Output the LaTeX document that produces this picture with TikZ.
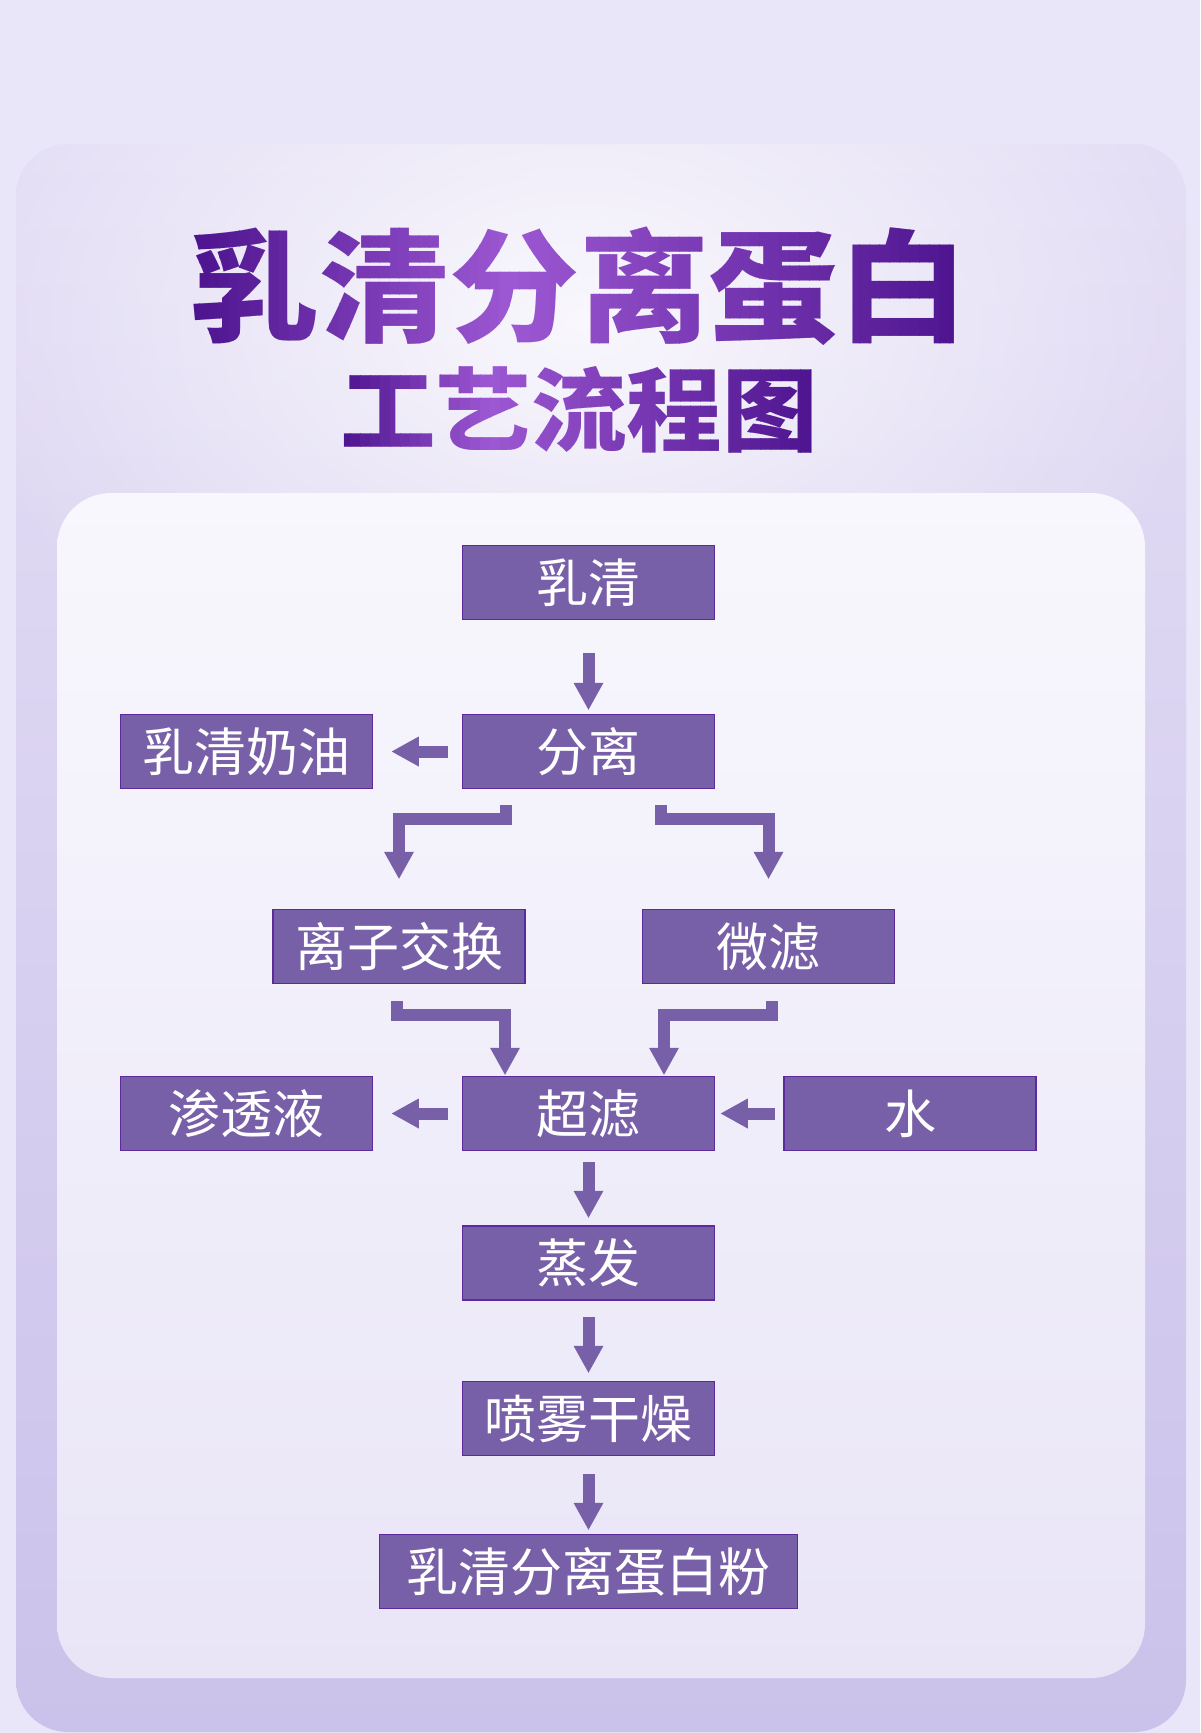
\documentclass[tikz,border=0pt]{standalone}
\usepackage{graphicx}
\usepackage{fontspec}
\newfontfamily\cjk{Noto Sans CJK SC}
\usetikzlibrary{arrows.meta,calc,fadings}
\definecolor{bgc}{HTML}{E8E6F8}
\definecolor{panelTop}{HTML}{E4DEF5}
\definecolor{panelBot}{HTML}{CBC2EB}
\definecolor{innerTop}{HTML}{F8F7FD}
\definecolor{innerBot}{HTML}{E9E5F7}
\definecolor{boxfill}{HTML}{7860A8}
\definecolor{boxline}{HTML}{5B2A9C}
\definecolor{arrowc}{HTML}{7860A8}
\definecolor{tdark}{HTML}{4E148F}
\definecolor{tlight}{HTML}{9D58D3}
\tikzfading[name=glowfade, inner color=transparent!0, outer color=transparent!100]
\tikzset{
  proc/.style={draw=boxline, fill=boxfill, line width=1.5pt, minimum width=252pt, minimum height=74pt, inner sep=0pt, text=white, font=\cjk\fontsize{52}{52}\selectfont},
  fatarrow/.style={draw=arrowc, line width=12pt, line join=miter, -{Triangle[width=30pt,length=27pt,line width=0pt]}},
  titleA/.style={inner sep=0pt, font=\cjk\bfseries\fontsize{122}{122}\selectfont},
  titleB/.style={inner sep=0pt, font=\cjk\bfseries\fontsize{91}{91}\selectfont}
}
\begin{document}
\begin{tikzpicture}[x=1pt,y=-1pt]
\useasboundingbox (0,0) rectangle (1200,1733);
\fill[bgc] (0,0) rectangle (1200,1733);
% outer panel
\shade[top color=panelTop, bottom color=panelBot, rounded corners=52pt] (16,144) rectangle (1186,1732);
\begin{scope}
  \clip[rounded corners=52pt] (16,144) rectangle (1186,1732);
  \fill[white, fill opacity=0.8, path fading=glowfade] (580,320) ellipse [x radius=640pt, y radius=430pt];
\end{scope}
% inner panel
\shade[top color=innerTop, bottom color=innerBot, rounded corners=54pt] (57,493) rectangle (1145,1678);
% title line 1 (horizontal gradient by strips)
\foreach \i in {0,...,79}{
  \pgfmathsetmacro\xa{179+10*\i}
  \pgfmathsetmacro\xm{\xa+5}
  \pgfmathtruncatemacro\p{max(0,min(100,(\xm<=510) ? (\xm-196)/3.14 : (962-\xm)/4.52))}
  \colorlet{stripc}{tlight!\p!tdark}
  \begin{scope}
    \clip (\xa,200) rectangle ({\xa+10.8},372);
    \node[titleA, text=stripc] (tA\i) at (579,286.5) {\scalebox{1.065}[1]{乳清分离蛋白}};
  \end{scope}
}
% title line 2
\foreach \i in {0,...,51}{
  \pgfmathsetmacro\xa{320+10*\i}
  \pgfmathsetmacro\xm{\xa+5}
  \pgfmathtruncatemacro\p{max(0,min(100,(\xm<=490) ? (\xm-342)/1.48 : (813-\xm)/3.23))}
  \colorlet{stripc}{tlight!\p!tdark}
  \begin{scope}
    \clip (\xa,350) rectangle ({\xa+10.8},472);
    \node[titleB, text=stripc] (tB\i) at (579,409.5) {\scalebox{1.05}[1]{工艺流程图}};
  \end{scope}
}
% boxes
\node[proc] (ruqing) at (588.5,582.5) {乳清};
\node[proc] (fenli) at (588.5,751.5) {分离};
\node[proc] (naiyou) at (246.5,751.5) {乳清奶油};
\node[proc] (lizi) at (399,946.5) {离子交换};
\node[proc] (weilv) at (768.5,946.5) {微滤};
\node[proc] (shentou) at (246.5,1113.5) {渗透液};
\node[proc] (chaolv) at (588.5,1113.5) {超滤};
\node[proc] (shui) at (910,1113.5) {水};
\node[proc] (zhengfa) at (588.5,1263) {蒸发};
\node[proc] (penwu) at (588.5,1418.5) {喷雾干燥};
\node[proc, minimum width=418pt] (fen) at (588.5,1571.5) {乳清分离蛋白粉};
% arrows
\draw[fatarrow] ([yshift=-33pt]ruqing.south) -- ([yshift=4pt]fenli.north);
\draw[fatarrow] ([xshift=-14pt]fenli.west) -- ([xshift=18.5pt]naiyou.east);
\draw[fatarrow] ([xshift=-82.5pt,yshift=-16pt]fenli.south) -- ++(0,13.5) -| ([yshift=30pt]lizi.north);
\draw[fatarrow] ([xshift=72pt,yshift=-16pt]fenli.south) -- ++(0,13.5) -| ([yshift=30pt]weilv.north);
\draw[fatarrow] ([xshift=-2pt,yshift=-17pt]lizi.south) -- ++(0,13.5) -| ([xshift=-83.5pt,yshift=1pt]chaolv.north);
\draw[fatarrow] ([xshift=3.5pt,yshift=-17pt]weilv.south) -- ++(0,13.5) -| ([xshift=75.5pt,yshift=1pt]chaolv.north);
\draw[fatarrow] ([xshift=-14pt]chaolv.west) -- ([xshift=18.5pt]shentou.east);
\draw[fatarrow] ([xshift=-8pt]shui.west) -- ([xshift=5.5pt]chaolv.east);
\draw[fatarrow] ([yshift=-11pt]chaolv.south) -- ([yshift=7.5pt]zhengfa.north);
\draw[fatarrow] ([yshift=-16.5pt]zhengfa.south) -- ([yshift=8pt]penwu.north);
\draw[fatarrow] ([yshift=-18pt]penwu.south) -- ([yshift=4pt]fen.north);
\end{tikzpicture}
\end{document}
